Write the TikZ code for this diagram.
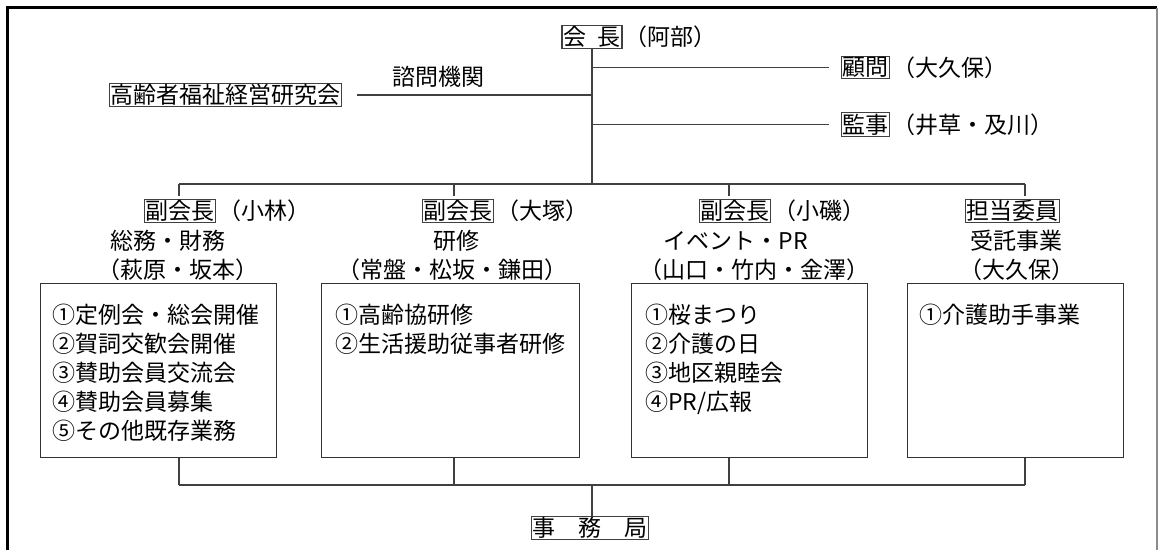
\documentclass[tikz,border=0pt]{standalone}
\usepackage{fontspec}
\newfontfamily\jpfont{Noto Sans CJK JP}
\tikzset{
	jp/.style={font=\jpfont\fontsize{11.5}{14.5}\selectfont},
	tag/.style={jp, draw=black!75, line width=0.6pt, inner sep=0.6pt},
	txt/.style={jp, inner sep=0pt},
	dutybox/.style={draw=black!80, line width=0.7pt, anchor=north west, inner sep=0pt},
	wire/.style={draw=black!75, line width=0.75pt},
}

\begin{document}
\begin{tikzpicture}[x=0.5pt, y=-0.5pt]
	\useasboundingbox (0,0) rectangle (1160,550);
	% frame
	\draw[line width=1.5pt] (7,570) -- (7,8) -- (1157,8);
	\draw[black!45, line width=0.8pt] (1157,8) -- (1157,570);

	% top
	\node[tag] (kaicho) at (592,37) {会\hspace{0.5em}長};
	\node[txt, anchor=west] (kaichoname) at ([xshift=1pt]kaicho.east) {（阿部）};
	\node[tag] (komon) at (865.5,67.5) {顧問};
	\node[txt, anchor=west] (komonname) at ([xshift=1pt]komon.east) {（大久保）};
	\node[tag] (kansa) at (865.5,124.5) {監事};
	\node[txt, anchor=west] (kansaname) at ([xshift=1pt]kansa.east) {（井草・及川）};
	\node[tag] (kenkyu) at (225.5,95) {高齢者福祉経営研究会};
	\node[txt] (shimon) at (438,77) {諮問機関};

	% heads
	\node[tag] (head1) at (180,211) {副会長};
	\node[txt, anchor=west] (name1) at ([xshift=1pt]head1.east) {（小林）};
	\node[tag] (head2) at (458,211) {副会長};
	\node[txt, anchor=west] (name2) at ([xshift=1pt]head2.east) {（大塚）};
	\node[tag] (head3) at (735,211) {副会長};
	\node[txt, anchor=west] (name3) at ([xshift=1pt]head3.east) {（小磯）};
	\node[tag] (head4) at (1012.5,211) {担当委員};

	\node[txt] (area1) at (168,241) {総務・財務};
	\node[txt] (area2) at (456,241) {研修};
	\node[txt] (area3) at (736,241) {イベント・PR};
	\node[txt] (area4) at (1016,241) {受託事業};
	\node[txt] (staff1) at (178,270) {（萩原・坂本）};
	\node[txt] (staff2) at (452,270) {（常盤・松坂・鎌田）};
	\node[txt] (staff3) at (754,270) {（山口・竹内・金澤）};
	\node[txt] (staff4) at (1017,270) {（大久保）};

	% duty boxes
	\node[dutybox, minimum width=118pt, minimum height=87pt] (duty1) at (40,283) {};
	\node[dutybox, minimum width=129pt, minimum height=87pt] (duty2) at (321,283) {};
	\node[dutybox, minimum width=118pt, minimum height=87pt] (duty3) at (631,283) {};
	\node[dutybox, minimum width=108pt, minimum height=87pt] (duty4) at (907,283) {};
	\node[txt, anchor=north west, align=left] (list1) at (52,304)
		{①定例会・総会開催\\②賀詞交歓会開催\\③賛助会員交流会\\④賛助会員募集\\⑤その他既存業務};
	\node[txt, anchor=north west, align=left] (list2) at (335,304)
		{①高齢協研修\\②生活援助従事者研修};
	\node[txt, anchor=north west, align=left] (list3) at (645,304)
		{①桜まつり\\②介護の日\\③地区親睦会\\④PR/広報};
	\node[txt, anchor=north west, align=left] (list4) at (919,304)
		{①介護助手事業};

	\node[tag] (jimu) at (590,528) {事\hspace{1em}務\hspace{1em}局};

	% connectors
	\coordinate (bus) at (592,184);
	\coordinate (busdown) at (592,485);
	\draw[wire] (kaicho.south) -- (kaicho.south |- bus);
	\draw[wire, shorten >=6pt] (kaicho.south |- komon.west) -- (komon.west);
	\draw[wire, shorten >=6pt] (kaicho.south |- kansa.west) -- (kansa.west);
	\draw[wire, shorten >=7.5pt] (kaicho.south |- kenkyu.east) -- (kenkyu.east);
	\foreach \i/\x in {1/179, 2/454, 3/729, 4/1025}{
		\coordinate (t\i) at (\x,184);
		\coordinate (b\i) at (\x,485);
		\draw[wire, shorten >=1.5pt] (t\i) -- (t\i |- head\i.north);
		\draw[wire] (b\i |- duty\i.south) -- (b\i);
	}
	\draw[wire] (t1) -- (t4);
	\draw[wire] (b1) -- (b4);
	\draw[wire] (busdown) -- (busdown |- jimu.north);

\end{tikzpicture}
\end{document}
